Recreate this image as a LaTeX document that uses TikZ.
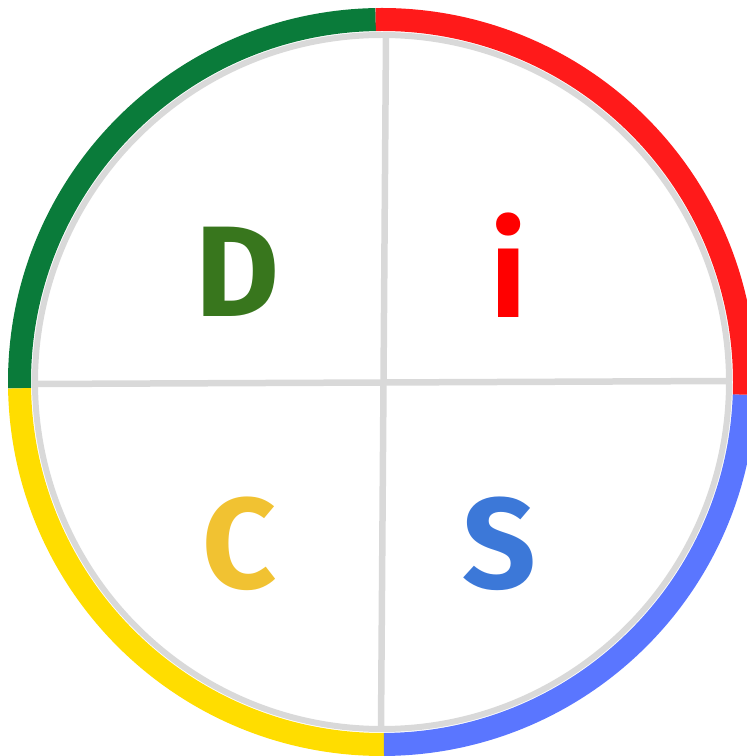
\documentclass[tikz,border=0pt]{standalone}
\usepackage{fontspec}
\newfontfamily\letterfont{Fira Sans}
\definecolor{ringgreen}{RGB}{10,123,58}
\definecolor{ringred}{RGB}{255,26,26}
\definecolor{ringyellow}{RGB}{255,221,0}
\definecolor{ringblue}{RGB}{90,118,255}
\definecolor{divgray}{RGB}{217,217,217}
\definecolor{dcol}{RGB}{56,118,29}
\definecolor{icol}{RGB}{255,0,0}
\definecolor{ccol}{RGB}{241,194,50}
\definecolor{scol}{RGB}{60,120,216}
\tikzset{
  ringarc/.style={line width=23pt, line cap=butt},
  divline/.style={draw=divgray, line width=6.5pt},
  letter/.style={inner sep=0pt, anchor=base, font=\letterfont\bfseries\fontsize{129}{129}\selectfont}
}
\begin{document}
\begin{tikzpicture}[x=1pt,y=1pt]
\useasboundingbox (0,0) rectangle (747,756);
\clip (0,0) rectangle (747,756);
\coordinate (O) at (382,374);
% coloured outer ring
\draw[ringarc, ringgreen]  (O) ++(91:362.5)  arc[start angle=91,  end angle=181,   radius=362.5];
\draw[ringarc, ringyellow] (O) ++(181:362.5) arc[start angle=181, end angle=270.3, radius=362.5];
\draw[ringarc, ringblue]   (O) ++(270.3:362.5) arc[start angle=270.3, end angle=358, radius=362.5];
\draw[ringarc, ringred]    (O) ++(-2:362.5)  arc[start angle=-2,  end angle=91,    radius=362.5];
% grey inner ring
\draw[divgray, line width=6pt] (O) circle[radius=347];
% dividers
\coordinate (vt) at (386,721);
\coordinate (vb) at (381,27);
\coordinate (hl) at (35,372);
\coordinate (hr) at (729,375);
\draw[divline] (vt) -- (vb);
\draw[divline] (hl) -- (hr);
% letters
\node[letter, text=dcol] (D) at (237,439) {D};
\node[letter, text=icol] (i) at (508.5,438) {i};
\node[letter, text=ccol] (C) at (240,167) {C};
\node[letter, text=scol] (S) at (499.5,167) {S};
\end{tikzpicture}
\end{document}
